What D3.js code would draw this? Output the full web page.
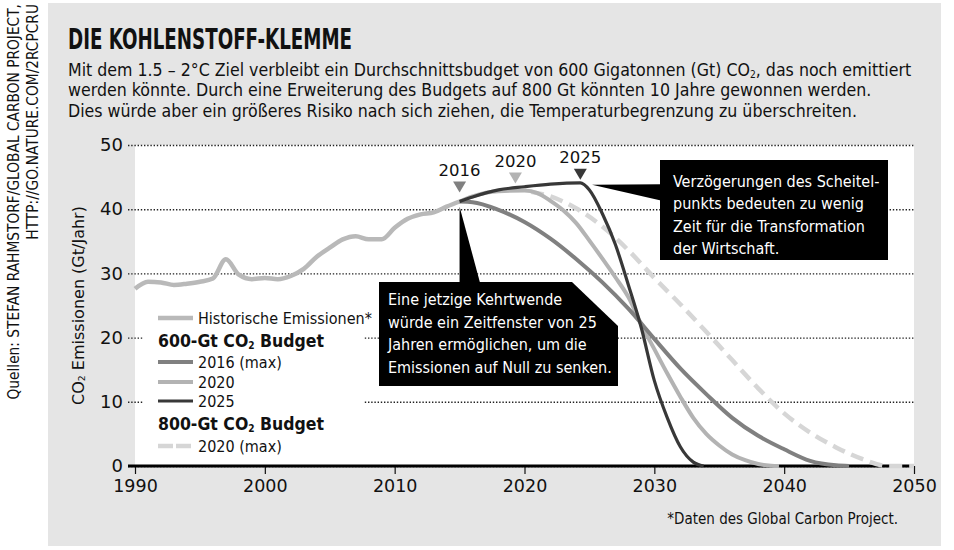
<!DOCTYPE html>
<html>
<head>
<meta charset="utf-8">
<script src="https://cdn.jsdelivr.net/npm/d3@7"></script>
<style>
  body { margin: 0; background: #fff; }
  svg { display: block; }
</style>
</head>
<body>
<svg width="954" height="550"></svg>
<script>
// historic emissions (Gt CO2 / year)
const histYears = [1990, 1991, 1992, 1993, 1994, 1995, 1996, 1997, 1998, 1999, 2000, 2001, 2002,
  2003, 2004, 2005, 2006, 2007, 2008, 2009, 2010, 2011, 2012, 2013, 2014, 2015];
const histValues = [27.6, 28.7, 28.6, 28.2, 28.4, 28.7, 29.2, 32.2, 29.8, 29.1, 29.3, 29.1, 29.6,
  30.7, 32.6, 34.0, 35.3, 35.8, 35.3, 35.3, 37.1, 38.5, 39.2, 39.5, 40.4, 41.2];

// 600 Gt budget, peak 2016
const peak2016Years = [2015, 2016, 2018, 2020, 2022, 2024, 2026, 2028, 2030, 2032, 2034, 2036, 2038, 2040, 2042, 2044, 2045];
const peak2016Values = [41.2, 41.1, 39.9, 38.0, 35.4, 32.2, 28.6, 24.5, 19.8, 15.2, 11.2, 7.5, 4.7, 2.6, 0.8, 0.1, 0];

// 600 Gt budget, peak 2020
const peak2020Years = [2015, 2016, 2018, 2020, 2021, 2022, 2023, 2024, 2025, 2026, 2027, 2028, 2029,
  2030, 2031, 2032, 2033, 2034, 2035, 2036, 2037, 2038, 2039, 2039.6];
const peak2020Values = [41.2, 42.0, 42.8, 42.9, 42.5, 41.3, 39.8, 37.8, 35.1, 32.3, 29.4, 26.3, 22.0,
  18.2, 14.4, 10.8, 7.5, 5.0, 3.2, 1.8, 0.9, 0.3, 0.05, 0];

// 600 Gt budget, peak 2025
const peak2025Years = [2015, 2016, 2018, 2020, 2022, 2024.3, 2025, 2026, 2027, 2028, 2029, 2030, 2031, 2032, 2033, 2033.8];
const peak2025Values = [41.2, 41.9, 43.0, 43.5, 43.9, 44.1, 43.0, 39.3, 34.5, 28.2, 21.5, 13.3, 7.5, 3.0, 0.6, 0];

// 800 Gt budget, peak 2020
const big2020Years = [2020.5, 2022, 2024, 2026, 2028, 2030, 2032, 2034, 2036, 2038, 2040, 2042, 2044, 2046, 2048, 2050];
const big2020Values = [42.7, 42.0, 40.1, 37.3, 33.6, 29.3, 25.2, 20.9, 16.5, 12.1, 8.2, 5.2, 2.9, 1.1, 0, 0];

const xTicks = [1990, 2000, 2010, 2020, 2030, 2040, 2050];
const yTicks = [0, 10, 20, 30, 40, 50];

// peak markers: label, year, value of the triangle tip
const markerLabels = ["2016", "2020", "2025"];
const markerYears = [2015.0, 2019.3, 2024.3];
const markerTips = [42.6, 44.0, 44.6];

const titleText = "DIE KOHLENSTOFF-KLEMME";
const introLines = [
  [["Mit dem 1.5 – 2°C Ziel verbleibt ein Durchschnittsbudget von 600 Gigatonnen (Gt) CO"], ["2", "sub"], [", das noch emittiert"]],
  [["werden könnte. Durch eine Erweiterung des Budgets auf 800 Gt könnten 10 Jahre gewonnen werden."]],
  [["Dies würde aber ein größeres Risiko nach sich ziehen, die Temperaturbegrenzung zu überschreiten."]]
];
const sourceLines = ["Quellen: STEFAN RAHMSTORF/GLOBAL CARBON PROJECT,", "HTTP://GO.NATURE.COM/2RCPCRU"];
const noteText = "*Daten des Global Carbon Project.";
const lateNote = ["Verzögerungen des Scheitel-", "punkts bedeuten zu wenig", "Zeit für die Transformation", "der Wirtschaft."];
const nowNote = ["Eine jetzige Kehrtwende", "würde ein Zeitfenster von 25", "Jahren ermöglichen, um die", "Emissionen auf Null zu senken."];

const width = 954;
const height = 550;
const plot = { left: 135, right: 914, top: 145, bottom: 466 };
const sans = "'DejaVu Sans', Verdana, sans-serif";
const cond = "'DejaVu Sans Condensed', 'DejaVu Sans', sans-serif";

const style = {
  hist: { stroke: "#b9b9b9", width: 4.5 },
  p2016: { stroke: "#808080", width: 4 },
  p2020: { stroke: "#b3b3b3", width: 4 },
  p2025: { stroke: "#383838", width: 3.2 },
  big2020: { stroke: "#d6d6d6", width: 4.5, dash: "13,7" }
};

const svg = d3.select("svg");

// background panel
svg.append("rect")
  .attr("x", 48).attr("y", 3)
  .attr("width", 893).attr("height", 543)
  .attr("fill", "#e5e5e5");

// text with optional subscript pieces (shifted with dy so the line box stays small)
function rich(sel, parts) {
  let shifted = false;
  parts.forEach(p => {
    const t = sel.append("tspan").text(p[0]);
    if (p[1] === "sub") {
      t.attr("font-size", "58%").attr("dy", "0.2em");
      shifted = true;
    } else if (shifted) {
      t.attr("dy", "-0.12em");
      shifted = false;
    }
  });
  return sel;
}

// title + intro
svg.append("text")
  .attr("x", 68).attr("y", 49)
  .attr("font-family", "'Liberation Sans Narrow', " + cond)
  .attr("font-weight", "bold")
  .attr("font-size", 29)
  .attr("textLength", 284)
  .attr("lengthAdjust", "spacingAndGlyphs")
  .attr("fill", "#111")
  .text(titleText);

introLines.forEach((line, i) => {
  rich(svg.append("text")
    .attr("x", 68).attr("y", 76 + i * 20.3)
    .attr("font-family", cond)
    .attr("font-size", 17.6)
    .attr("fill", "#111"), line);
});

// source on the left
sourceLines.forEach((s, i) => {
  svg.append("text")
    .attr("transform", `translate(${14 + i * 19},4) rotate(-90)`)
    .attr("text-anchor", "end")
    .attr("dy", "0.35em")
    .attr("font-family", cond)
    .attr("font-size", 15.3)
    .attr("fill", "#111")
    .text(s);
});

// scales
const xScale = d3.scaleLinear().domain([1990, 2050]).range([plot.left, plot.right]);
const yScale = d3.scaleLinear().domain([0, 50]).range([plot.bottom, plot.top]);

// plot area
svg.append("rect")
  .attr("x", plot.left).attr("y", plot.top)
  .attr("width", plot.right - plot.left).attr("height", plot.bottom - plot.top)
  .attr("fill", "#fff");

// y axis with dotted grid
const axisStart = plot.left - 7;
const yAxis = d3.axisLeft(yScale)
  .tickValues(yTicks)
  .tickSize(-(plot.right - axisStart))
  .tickPadding(5);

svg.append("g")
  .attr("transform", `translate(${axisStart},0)`)
  .call(yAxis)
  .call(g => g.select(".domain").remove())
  .call(g => g.selectAll(".tick line")
    .attr("stroke", "#222")
    .attr("stroke-width", 1.4)
    .attr("stroke-dasharray", "1.4,1.8"))
  .call(g => g.selectAll(".tick text")
    .attr("font-family", sans)
    .attr("font-size", 18)
    .attr("fill", "#111"));

// legend box (covers grid)
const legendBox = { x: 143, y: 305, w: 220, h: 152 };
svg.append("rect")
  .attr("x", legendBox.x).attr("y", legendBox.y)
  .attr("width", legendBox.w).attr("height", legendBox.h)
  .attr("fill", "#fff");

// x axis
const xAxis = d3.axisBottom(xScale)
  .tickValues(xTicks)
  .tickSize(8)
  .tickSizeOuter(0)
  .tickPadding(6)
  .tickFormat(d3.format("d"));

svg.append("g")
  .attr("transform", `translate(0,${plot.bottom})`)
  .call(xAxis)
  .call(g => g.select(".domain").remove())
  .call(g => g.selectAll(".tick line").attr("stroke", "#111").attr("stroke-width", 1.2))
  .call(g => g.selectAll(".tick text")
    .attr("font-family", sans)
    .attr("font-size", 17.5)
    .attr("fill", "#111"));

svg.append("line")
  .attr("x1", axisStart).attr("x2", plot.right)
  .attr("y1", yScale(0)).attr("y2", yScale(0))
  .attr("stroke", "#000")
  .attr("stroke-width", 3);

// y axis title
rich(svg.append("text")
  .attr("transform", `translate(78,${yScale(25)}) rotate(-90)`)
  .attr("text-anchor", "middle")
  .attr("dy", "0.35em")
  .attr("font-family", sans)
  .attr("font-size", 16)
  .attr("fill", "#111"), [["CO"], ["2", "sub"], [" Emissionen (Gt/Jahr)"]]);

// lines
const line = d3.line()
  .x(d => xScale(d[0]))
  .y(d => yScale(d[1]))
  .curve(d3.curveMonotoneX);

function drawSeries(years, values, st) {
  svg.append("path")
    .attr("d", line(years.map((y, i) => [y, values[i]])))
    .attr("fill", "none")
    .attr("stroke", st.stroke)
    .attr("stroke-width", st.width)
    .attr("stroke-linejoin", "round")
    .attr("stroke-dasharray", st.dash || null);
}

drawSeries(histYears, histValues, style.hist);
drawSeries(big2020Years, big2020Values, style.big2020);
drawSeries(peak2020Years, peak2020Values, style.p2020);
drawSeries(peak2016Years, peak2016Values, style.p2016);
drawSeries(peak2025Years, peak2025Values, style.p2025);

// peak markers
const markerColors = [style.p2016.stroke, style.p2020.stroke, style.p2025.stroke];
markerLabels.forEach((lab, i) => {
  const mx = xScale(markerYears[i]);
  const my = yScale(markerTips[i]);
  svg.append("path")
    .attr("d", `M${mx},${my} L${mx - 6.5},${my - 11} L${mx + 6.5},${my - 11} Z`)
    .attr("fill", markerColors[i]);
  svg.append("text")
    .attr("x", mx).attr("y", my - 17)
    .attr("text-anchor", "middle")
    .attr("font-family", sans)
    .attr("font-size", 16.5)
    .attr("fill", "#111")
    .text(lab);
});

// callout: delayed peak
const lateBox = { x: 660, y: 160, w: 228, h: 100 };
svg.append("path")
  .attr("d", `M${xScale(2025.2)},${yScale(43.8)} L${lateBox.x + 2},${yScale(43.9)} L${lateBox.x + 2},${yScale(41.3)} Z`)
  .attr("fill", "#000");
svg.append("rect")
  .attr("x", lateBox.x).attr("y", lateBox.y)
  .attr("width", lateBox.w).attr("height", lateBox.h)
  .attr("fill", "#000");
lateNote.forEach((t, i) => {
  svg.append("text")
    .attr("x", lateBox.x + 13).attr("y", lateBox.y + 27 + i * 22.3)
    .attr("font-family", cond)
    .attr("font-size", 16)
    .attr("fill", "#fff")
    .text(t);
});

// callout: turn now
const nowBox = { x: 379, y: 282, w: 239, h: 104, cut: 46 };
svg.append("path")
  .attr("d", `M${xScale(2015)},${yScale(40.4)} L${xScale(2015)},${nowBox.y + 2} L${xScale(2016.6)},${nowBox.y + 2} Z`)
  .attr("fill", "#000");
svg.append("path")
  .attr("d", `M${nowBox.x},${nowBox.y} H${nowBox.x + nowBox.w - nowBox.cut} L${nowBox.x + nowBox.w},${nowBox.y + nowBox.cut - 2} V${nowBox.y + nowBox.h} H${nowBox.x} Z`)
  .attr("fill", "#000");
nowNote.forEach((t, i) => {
  svg.append("text")
    .attr("x", nowBox.x + 9).attr("y", nowBox.y + 23 + i * 22.7)
    .attr("font-family", cond)
    .attr("font-size", 16)
    .attr("fill", "#fff")
    .text(t);
});

// legend
const lgX = 158;
const legendRows = [
  { y: 318, kind: "line", st: style.hist, parts: [["Historische Emissionen*"]] },
  { y: 341, kind: "head", parts: [["600-Gt CO"], ["2", "sub"], [" Budget"]] },
  { y: 362, kind: "line", st: style.p2016, parts: [["2016 (max)"]] },
  { y: 382, kind: "line", st: style.p2020, parts: [["2020"]] },
  { y: 401, kind: "line", st: style.p2025, parts: [["2025"]] },
  { y: 424, kind: "head", parts: [["800-Gt CO"], ["2", "sub"], [" Budget"]] },
  { y: 446, kind: "line", st: style.big2020, parts: [["2020 (max)"]] }
];
legendRows.forEach(r => {
  if (r.kind === "line") {
    svg.append("line")
      .attr("x1", lgX).attr("x2", lgX + 35)
      .attr("y1", r.y).attr("y2", r.y)
      .attr("stroke", r.st.stroke)
      .attr("stroke-width", r.st.width)
      .attr("stroke-dasharray", r.st.dash ? "15,3" : null);
  }
  rich(svg.append("text")
    .attr("x", r.kind === "line" ? lgX + 40 : lgX)
    .attr("y", r.y)
    .attr("dy", "0.36em")
    .attr("font-family", cond)
    .attr("font-weight", r.kind === "head" ? "bold" : null)
    .attr("font-size", r.kind === "head" ? 17.5 : 16)
    .attr("fill", "#111"), r.parts);
});

// footnote
svg.append("text")
  .attr("x", 898).attr("y", 524)
  .attr("text-anchor", "end")
  .attr("font-family", cond)
  .attr("font-size", 15)
  .attr("fill", "#111")
  .text(noteText);
</script>
</body>
</html>
